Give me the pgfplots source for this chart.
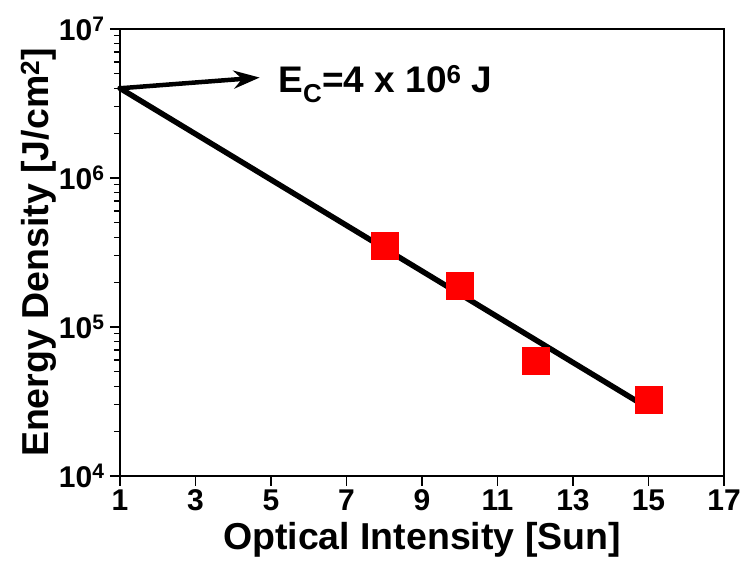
\documentclass[border=0pt]{standalone}
\usepackage{fontspec}
\setmainfont{Liberation Sans}
\usepackage{pgfplots}
\pgfplotsset{compat=1.18}
\usetikzlibrary{arrows.meta}
\begin{document}
\begin{tikzpicture}
\begin{axis}[
  scale only axis,
  width=604pt, height=447pt,
  xmin=1, xmax=17,
  ymode=log, ymin=1e4, ymax=1e7,
  xtick={1,3,5,7,9,11,13,15,17},
  xticklabels={1,3,5,7,9,11,13,15,17},
  ytick={1e4,1e5,1e6,1e7},
  yticklabels={10\textsuperscript{4},10\textsuperscript{5},10\textsuperscript{6},10\textsuperscript{7}},
  tick pos=left,
  tick align=outside,
  major tick length=10pt,
  minor tick length=6pt,
  axis line style={line width=1.5pt},
  every tick/.style={black, line width=1.2pt},
  tick label style={font=\fontsize{30pt}{32pt}\selectfont\bfseries},
  yticklabel style={xshift=-2pt},
  label style={font=\fontsize{37.5pt}{40pt}\selectfont\bfseries},
  xlabel={Optical Intensity [Sun]},
  ylabel={Energy Density [J/cm\textsuperscript{2}]},
  xlabel style={at={(axis description cs:0.5,-0.095)}, anchor=north},
  ylabel style={at={(axis description cs:-0.135,0.5)}, anchor=center},
  clip=false,
]
\addplot[only marks, mark=square*, mark size=13.5pt, color=red, draw=none, fill=red] coordinates {
(8,3.52e5) (10,1.9e5) (12,5.97e4) (15,3.27e4)};
\addplot[line width=5.5pt, black, line cap=round] coordinates {(1,4e6) (15,2.85e4)};
\draw[-{Stealth[length=26pt,width=18pt]}, line width=4.5pt] (axis cs:1,4e6) -- (axis cs:4.7,4.72e6);
\node[anchor=base west, inner sep=0pt, font=\fontsize{37pt}{40pt}\selectfont\bfseries] at (axis cs:5.19,3.72e6) {E\textsubscript{C}=4 x 10\textsuperscript{6} J};
\end{axis}
\pgfresetboundingbox
\path[use as bounding box] (-120pt,-86pt) rectangle (624pt,476pt);
\end{tikzpicture}
\end{document}
